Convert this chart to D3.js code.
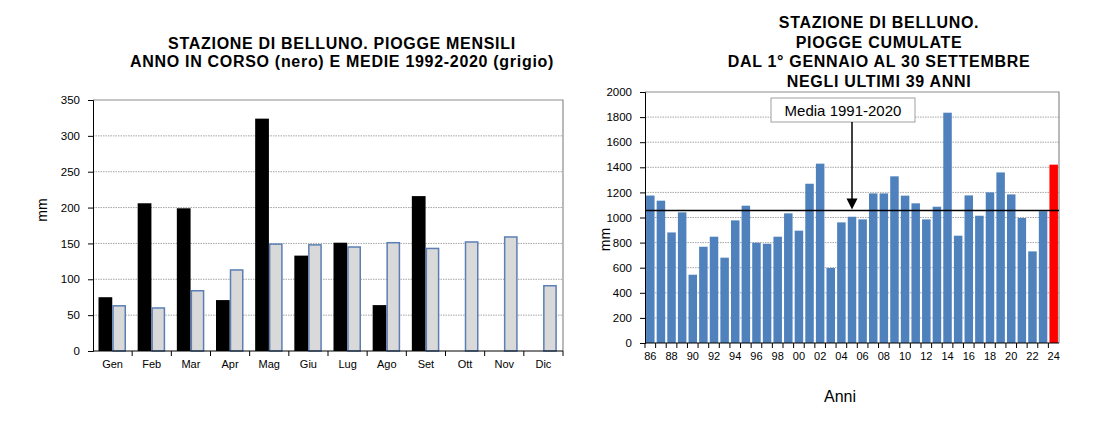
<!DOCTYPE html>
<html lang="it">
<head>
<meta charset="UTF-8">
<title>Stazione di Belluno - piogge</title>
<script src="https://d3js.org/d3.v7.min.js"></script>
<style>
  body { margin: 0; background: #fff; }
  svg { font-family: "Liberation Sans", Arial, Helvetica, sans-serif; }
  .title { font-weight: bold; font-size: 16px; letter-spacing: 0.7px; text-anchor: middle; }
  .tick text { font-size: 11px; fill: #000; }
  .yax .tick text { font-size: 11.5px; }
  .grid line { stroke: #a6a6a6; stroke-dasharray: 1.5,1; }
</style>
</head>
<body>
<svg width="1113" height="435"></svg>
<script>
// ---- dati: piogge mensili ----
const mesi = ["Gen", "Feb", "Mar", "Apr", "Mag", "Giu", "Lug", "Ago", "Set", "Ott", "Nov", "Dic"];
const annoInCorso = [75, 206, 199, 71, 324, 133, 151, 64, 216, null, null, null];
const medie = [63, 60, 84, 113, 149, 148, 145, 151, 143, 152, 159, 91];
const tickMensili = [0, 50, 100, 150, 200, 250, 300, 350];

// ---- dati: piogge cumulate 1 gen - 30 set ----
const anni = ["86", "87", "88", "89", "90", "91", "92", "93", "94", "95", "96", "97", "98", "99",
              "00", "01", "02", "03", "04", "05", "06", "07", "08", "09", "10", "11", "12", "13",
              "14", "15", "16", "17", "18", "19", "20", "21", "22", "23", "24"];
const cumulate = [1175, 1134, 881, 1041, 544, 767, 847, 680, 977, 1094, 799, 791, 847, 1033,
                  895, 1269, 1429, 598, 961, 1006, 985, 1192, 1192, 1328, 1174, 1113, 985, 1086,
                  1835, 855, 1176, 1014, 1200, 1359, 1184, 996, 730, 1050, 1421];
const mediaCumulata = 1055;
const tickCumulate = [0, 200, 400, 600, 800, 1000, 1200, 1400, 1600, 1800, 2000];
const anniEtichette = anni.filter((d, i) => i % 2 === 0);

const svg = d3.select("svg");
svg.append("rect").attr("width", 1113).attr("height", 435).attr("fill", "#fff");

// ================= grafico sinistro =================
const L = {left: 93, right: 563, top: 100, bottom: 351};

const x1 = d3.scaleBand().domain(mesi).range([L.left, L.right]);
const xs1 = d3.scaleBand().domain(["anno", "media"]).range([5.5, 33]);
const y1 = d3.scaleLinear().domain([0, 350]).range([L.bottom, L.top]);

const g1 = svg.append("g");

g1.append("g").attr("class", "grid")
  .selectAll("line").data(tickMensili.slice(1, -1)).join("line")
  .attr("x1", L.left).attr("x2", L.right)
  .attr("y1", d => y1(d)).attr("y2", d => y1(d));

// bordo area (alto e destra)
g1.append("path")
  .attr("d", `M${L.left},${y1(350)}H${L.right}V${L.bottom}`)
  .attr("fill", "none").attr("stroke", "#8c8c8c").attr("stroke-width", 1.2);

g1.selectAll(".bar-anno")
  .data(mesi.map((m, i) => ({m, v: annoInCorso[i]})).filter(d => d.v != null))
  .join("rect")
  .attr("x", d => x1(d.m) + xs1("anno"))
  .attr("y", d => y1(d.v))
  .attr("width", xs1.bandwidth())
  .attr("height", d => y1(0) - y1(d.v))
  .attr("fill", "#000");

g1.selectAll(".bar-media")
  .data(mesi.map((m, i) => ({m, v: medie[i]})))
  .join("rect")
  .attr("x", d => x1(d.m) + xs1("media") + 0.75)
  .attr("y", d => y1(d.v))
  .attr("width", xs1.bandwidth() - 1.5)
  .attr("height", d => y1(0) - y1(d.v))
  .attr("fill", "#d9d9d9")
  .attr("stroke", "#5b7fb5")
  .attr("stroke-width", 1.5);

g1.append("g").attr("class", "yax")
  .attr("transform", `translate(${L.left},0)`)
  .call(d3.axisLeft(y1).tickValues(tickMensili).tickSize(5).tickPadding(8))
  .call(g => g.select(".domain").attr("stroke", "#000"));

const ax1 = g1.append("g")
  .attr("transform", `translate(0,${L.bottom})`)
  .call(d3.axisBottom(x1).tickSize(0).tickPadding(9));
ax1.select(".domain").attr("stroke", "#000").attr("d", `M${L.left},0H${L.right}`);
ax1.selectAll(".sep").data(mesi).join("line")
  .attr("x1", d => x1(d) + x1.bandwidth()).attr("x2", d => x1(d) + x1.bandwidth())
  .attr("y1", 0).attr("y2", 5).attr("stroke", "#000");

g1.append("text")
  .attr("transform", "translate(47,210) rotate(-90)")
  .attr("text-anchor", "middle").attr("font-size", 14).text("mm");

g1.append("text").attr("class", "title").attr("x", 342).attr("y", 49)
  .text("STAZIONE DI BELLUNO. PIOGGE MENSILI");
g1.append("text").attr("class", "title").attr("x", 342).attr("y", 67)
  .text("ANNO IN CORSO (nero) E MEDIE 1992-2020 (grigio)");

// ================= grafico destro =================
const R = {left: 645, right: 1059, top: 92, bottom: 343};

const x2 = d3.scaleBand().domain(anni).range([R.left, R.right])
  .paddingInner(0.2).paddingOuter(0.1);
const y2 = d3.scaleLinear().domain([0, 2000]).range([R.bottom, R.top]);

const g2 = svg.append("g");

g2.append("g").attr("class", "grid")
  .selectAll("line").data(tickCumulate.slice(1, -1)).join("line")
  .attr("x1", R.left).attr("x2", R.right)
  .attr("y1", d => y2(d)).attr("y2", d => y2(d));

g2.append("path")
  .attr("d", `M${R.left},${y2(2000)}H${R.right}V${R.bottom}`)
  .attr("fill", "none").attr("stroke", "#8c8c8c").attr("stroke-width", 1.2);

g2.selectAll(".bar")
  .data(anni.map((a, i) => ({a, v: cumulate[i]})))
  .join("rect")
  .attr("x", d => x2(d.a))
  .attr("y", d => y2(d.v))
  .attr("width", x2.bandwidth())
  .attr("height", d => y2(0) - y2(d.v))
  .attr("fill", d => d.a === "24" ? "#ff0000" : "#4f81bd");

// linea media 1991-2020
g2.append("line")
  .attr("x1", R.left).attr("x2", R.right)
  .attr("y1", y2(mediaCumulata)).attr("y2", y2(mediaCumulata))
  .attr("stroke", "#000").attr("stroke-width", 1.5);

g2.append("g").attr("class", "yax")
  .attr("transform", `translate(${R.left},0)`)
  .call(d3.axisLeft(y2).tickValues(tickCumulate).tickFormat(d3.format("d")).tickSize(5).tickPadding(8))
  .call(g => g.select(".domain").attr("stroke", "#000"));

const ax2 = g2.append("g")
  .attr("transform", `translate(0,${R.bottom})`)
  .call(d3.axisBottom(x2).tickValues(anniEtichette).tickSize(0).tickPadding(9));
ax2.select(".domain").attr("stroke", "#000").attr("d", `M${R.left},0H${R.right}`);
ax2.selectAll(".sep").data(anni).join("line")
  .attr("x1", d => x2(d) - x2.step() * 0.1).attr("x2", d => x2(d) - x2.step() * 0.1)
  .attr("y1", 0).attr("y2", 5).attr("stroke", "#000");

g2.append("text")
  .attr("transform", `translate(610,${(R.top + R.bottom) / 2 + 22}) rotate(-90)`)
  .attr("text-anchor", "middle").attr("font-size", 14).text("mm");

g2.append("text").attr("x", (R.left + R.right) / 2 - 12).attr("y", 402)
  .attr("text-anchor", "middle").attr("font-size", 16).text("Anni");

// annotazione media
const ax05 = x2("05") + x2.bandwidth() / 2;
g2.append("rect").attr("x", ax05 - 81).attr("y", 98).attr("width", 144).attr("height", 24)
  .attr("fill", "#fff").attr("stroke", "#a0a0a0");
g2.append("text").attr("x", ax05 - 9).attr("y", 116).attr("text-anchor", "middle")
  .attr("font-size", 15).text("Media 1991-2020");
g2.append("line").attr("x1", ax05).attr("x2", ax05).attr("y1", 122).attr("y2", y2(mediaCumulata) - 10)
  .attr("stroke", "#000").attr("stroke-width", 1.5);
g2.append("path")
  .attr("d", `M${ax05 - 5.5},${y2(mediaCumulata) - 12}L${ax05 + 5.5},${y2(mediaCumulata) - 12}L${ax05},${y2(mediaCumulata) - 1}Z`)
  .attr("fill", "#000");

const t2 = ["STAZIONE DI BELLUNO.", "PIOGGE CUMULATE", "DAL 1° GENNAIO AL 30 SETTEMBRE", "NEGLI ULTIMI 39 ANNI"];
g2.selectAll(".title").data(t2).join("text").attr("class", "title")
  .attr("x", 879).attr("y", (d, i) => 28 + i * 19.7).text(d => d);
</script>
</body>
</html>
